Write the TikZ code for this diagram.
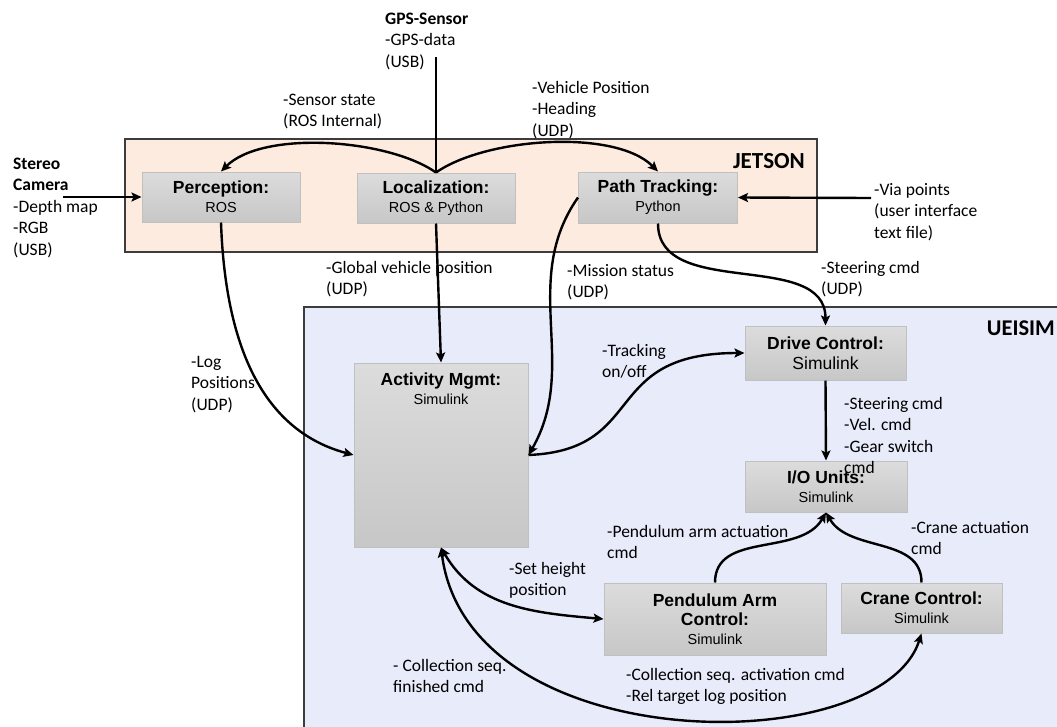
\documentclass[tikz,border=0pt]{standalone}
\usepackage{fontspec}
\setmainfont{Carlito}
\newfontfamily\boxfont{Liberation Sans}
\usepackage{tikz}
\usetikzlibrary{arrows.meta, positioning}
\definecolor{jetsonFill}{RGB}{253,235,223}
\definecolor{ueisimFill}{RGB}{232,235,250}
\definecolor{boxTop}{RGB}{220,220,220}
\definecolor{boxBot}{RGB}{200,199,199}
\definecolor{boxLine}{RGB}{192,192,192}
\definecolor{frameLine}{RGB}{60,60,60}
\newcommand{\ttl}[1]{{\bfseries\fontsize{17.5}{21}\selectfont #1}}

\begin{document}
\begin{tikzpicture}[x=1pt, y=1pt,
    blk/.style={draw=boxLine, line width=1pt, top color=boxTop, bottom color=boxBot,
      align=center, inner sep=0pt, font=\boxfont\fontsize{14.5}{19}\selectfont},
    lbl/.style={anchor=base west, align=left, inner sep=0pt, font=\fontsize{17.5}{21.5}\selectfont},
    arr/.style={line width=2.4pt, -{Stealth[length=10pt, width=9pt, inset=2pt]}},
    darr/.style={line width=2.4pt, {Stealth[length=10pt, width=9pt, inset=2pt]}-{Stealth[length=10pt, width=9pt, inset=2pt]}}]
  \useasboundingbox (0,0) rectangle (1057,-726);
  \clip (0,0) rectangle (1057,-726);

  % Containers
  \draw[frameLine, line width=1.3pt, fill=jetsonFill] (125,-139) rectangle (817,-252);
  \node[anchor=base east, inner sep=0pt, font=\bfseries\fontsize{23}{23}\selectfont] (jetson) at (805,-168) {JETSON};
  \draw[frameLine, line width=1.3pt, fill=ueisimFill] (304,-307) rectangle (1075,-745);
  \node[anchor=base east, inner sep=0pt, font=\bfseries\fontsize{22.5}{23}\selectfont] (ueisim) at (1055,-335) {UEISIM};

  % Blocks
  \node[blk, minimum width=158pt, minimum height=50pt] (perc) at (221,-197) {\ttl{Perception:}\\ROS};
  \node[blk, minimum width=158pt, minimum height=50pt] (loc) at (436,-198) {\ttl{Localization:}\\ROS \& Python};
  \node[blk, minimum width=159pt, minimum height=51pt] (pt) at (658,-197.5) {\ttl{Path Tracking:}\\Python};
  \node[blk, minimum width=174pt, minimum height=184pt] (act) at (441,-455) {};
  \node[below=10pt of act.north, align=center, inner sep=0pt, font=\boxfont\fontsize{14.5}{19}\selectfont] (actlbl) {\ttl{Activity Mgmt:}\\Simulink};
  \node[blk, minimum width=161pt, minimum height=54pt, font=\boxfont\fontsize{17.5}{20}\selectfont] (dc) at (825.5,-353) {\ttl{Drive Control:}\\Simulink};
  \node[blk, minimum width=162pt, minimum height=51pt] (io) at (826,-486.5) {\ttl{I/O Units:}\\Simulink};
  \node[blk, minimum width=222pt, minimum height=72pt] (pa) at (715,-619) {\ttl{Pendulum Arm}\\\ttl{Control:}\\Simulink};
  \node[blk, minimum width=161pt, minimum height=50pt] (cc) at (921.5,-608) {\ttl{Crane Control:}\\Simulink};

  % Labels (anchored at the baseline of the last line)
  \node[lbl] (gpslbl) at (385,-67) {\textbf{GPS-Sensor}\\-GPS-data\\(USB)};
  \node[lbl] (camlbl) at (13,-255) {\textbf{Stereo}\\\textbf{Camera}\\-Depth map\\-RGB\\(USB)};
  \node[lbl] (senslbl) at (283,-126.5) {-Sensor state\\(ROS Internal)};
  \node[lbl] (vehlbl) at (532,-136) {-Vehicle Position\\-Heading\\(UDP)};
  \node[lbl] (vialbl) at (874,-238) {-Via points\\(user interface\\text file)};
  \node[lbl] (glblbl) at (326,-294.5) {-Global vehicle position\\(UDP)};
  \node[lbl] (mislbl) at (567,-297.5) {-Mission status\\(UDP)};
  \node[lbl] (steerlbl) at (821,-294.5) {-Steering cmd\\(UDP)};
  \node[lbl] (loglbl) at (191,-410) {-Log\\Positions\\(UDP)};
  \node[lbl] (trklbl) at (602,-377.5) {-Tracking\\on/off};
  \node[lbl] (cmdlbl) at (844,-473.5) {-Steering cmd\\-Vel. cmd\\-Gear switch\\cmd};
  \node[lbl] (pendlbl) at (607,-558.5) {-Pendulum arm actuation\\cmd};
  \node[lbl] (cranelbl) at (911,-554.5) {-Crane actuation\\cmd};
  \node[lbl] (setlbl) at (509,-595.5) {-Set height\\position};
  \node[lbl] (finlbl) at (393,-692.5) {- Collection seq.\\finished cmd};
  \node[lbl] (actvlbl) at (626,-701.5) {-Collection seq. activation cmd\\-Rel target log position};

  % Free ends
  \coordinate (gps) at (436,-57);
  \coordinate (cam) at (63,-197);
  \coordinate (via) at (871,-198);

  % Connectors
  \draw[line width=2.4pt] (gps) -- (loc.north);
  \draw[arr] (loc.north) to[out=145, in=45, looseness=0.7] (perc.north);
  \draw[arr] (loc.north) to[out=35, in=135, looseness=0.7] (pt.north);
  \draw[arr] (cam) -- (perc.west);
  \draw[arr] (via) -- (pt.east);
  \draw[arr] (loc.south) -- (act.north);
  \draw[arr] (perc.south) to[out=-88, in=165] (act.west);
  \draw[arr] (pt.west) to[out=-125, in=60] (act.east);
  \draw[arr] (act.east) .. controls +(120,5) and +(-145,0) .. (dc.west);
  \draw[arr] (pt.south) to[out=-90, in=90] (dc.north);
  \draw[arr] (dc.south) -- (io.north);
  \draw[arr] (pa.north) to[out=90, in=-120] (io.south);
  \draw[arr] (cc.north) to[out=90, in=-60] (io.south);
  \draw[darr] (act.south) to[out=-60, in=175] (pa.west);
  \draw[darr] (act.south) .. controls +(28,-213) and +(-41,-127) .. (cc.south);
\end{tikzpicture}
\end{document}
